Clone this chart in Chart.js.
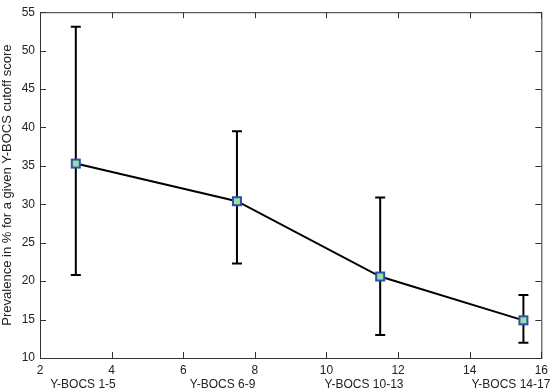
<!DOCTYPE html>
<html>
<head>
<meta charset="utf-8">
<script src="https://cdn.jsdelivr.net/npm/chart.js@4/dist/chart.umd.min.js"></script>
<style>
  html, body { margin: 0; padding: 0; background: #fff; }
  #wrap { width: 553px; height: 392px; position: relative; }
</style>
</head>
<body>
<div id="wrap"><canvas id="chart"></canvas></div>
<script>
"use strict";

// data
const groups = ["Y-BOCS 1-5", "Y-BOCS 6-9", "Y-BOCS 10-13", "Y-BOCS 14-17"];
const groupLabelX = [3.2, 7.1, 11.05, 15.15];
const xPos = [3, 7.5, 11.5, 15.5];
const prevalence = [35.3, 30.4, 20.6, 14.9];
const errLow = [20.8, 22.3, 13.0, 12.0];
const errHigh = [53.1, 39.5, 30.9, 18.2];

const xTicks = [2, 4, 6, 8, 10, 12, 14, 16];
const yTicks = [10, 15, 20, 25, 30, 35, 40, 45, 50, 55];

const FONT = "'Liberation Sans', Arial, Helvetica, sans-serif";

// error bars, then markers again so they sit on top
const errorBars = {
  id: "errorBars",
  afterDatasetsDraw(chart) {
    const { ctx, scales: { x, y } } = chart;
    ctx.save();
    ctx.strokeStyle = "#000";
    ctx.lineWidth = 2;
    xPos.forEach((v, i) => {
      const px = x.getPixelForValue(v);
      const top = y.getPixelForValue(errHigh[i]);
      const bot = y.getPixelForValue(errLow[i]);
      ctx.beginPath();
      ctx.moveTo(px, top); ctx.lineTo(px, bot);
      ctx.moveTo(px - 5, top); ctx.lineTo(px + 5, top);
      ctx.moveTo(px - 5, bot); ctx.lineTo(px + 5, bot);
      ctx.stroke();
    });
    const meta = chart.getDatasetMeta(0);
    meta.data.forEach(pt => {
      ctx.fillStyle = "#93e3a4";
      ctx.strokeStyle = "#2f4fae";
      ctx.lineWidth = 2;
      ctx.fillRect(pt.x - 4, pt.y - 4, 8, 8);
      ctx.strokeRect(pt.x - 4, pt.y - 4, 8, 8);
    });
    ctx.restore();
  }
};

// matlab style box with inward ticks + group labels under the axis
const frame = {
  id: "frame",
  afterDraw(chart) {
    const { ctx, chartArea: a, scales: { x, y } } = chart;
    ctx.save();
    ctx.strokeStyle = "#333";
    ctx.lineWidth = 1;
    ctx.strokeRect(a.left + 0.5, a.top + 0.5, a.right - a.left, a.bottom - a.top);
    ctx.beginPath();
    xTicks.forEach(v => {
      const px = Math.round(x.getPixelForValue(v)) + 0.5;
      ctx.moveTo(px, a.bottom); ctx.lineTo(px, a.bottom - 6);
      ctx.moveTo(px, a.top); ctx.lineTo(px, a.top + 6);
    });
    yTicks.forEach(v => {
      const py = Math.round(y.getPixelForValue(v)) + 0.5;
      ctx.moveTo(a.left, py); ctx.lineTo(a.left + 6, py);
      ctx.moveTo(a.right, py); ctx.lineTo(a.right - 6, py);
    });
    ctx.stroke();

    ctx.fillStyle = "#222";
    ctx.font = "12px " + FONT;
    ctx.textAlign = "center";
    ctx.textBaseline = "middle";
    groups.forEach((g, i) => {
      ctx.fillText(g, x.getPixelForValue(groupLabelX[i]), 385);
    });
    ctx.restore();
  }
};

new Chart(document.getElementById("chart"), {
  type: "line",
  data: {
    datasets: [{
      data: xPos.map((v, i) => ({ x: v, y: prevalence[i] })),
      borderColor: "#000",
      borderWidth: 2,
      pointStyle: "rect",
      pointRadius: 4,
      pointBackgroundColor: "#93e3a4",
      pointBorderColor: "#2f4fae",
      pointBorderWidth: 2,
      tension: 0,
    }],
  },
  options: {
    responsive: true,
    maintainAspectRatio: false,
    animation: false,
    layout: { padding: { top: 5, right: 7, bottom: 0, left: 0 } },
    plugins: { legend: { display: false }, tooltip: { enabled: false } },
    scales: {
      x: {
        type: "linear",
        min: 2, max: 16,
        afterBuildTicks: s => { s.ticks = xTicks.map(v => ({ value: v })); },
        afterFit: s => { s.height = 34; },
        grid: { display: false, drawTicks: false },
        border: { display: false },
        ticks: { color: "#222", font: { family: FONT, size: 12 }, padding: 5, maxRotation: 0 },
      },
      y: {
        min: 10, max: 55,
        afterBuildTicks: s => { s.ticks = yTicks.map(v => ({ value: v })); },
        afterFit: s => { s.width = 40; },
        grid: { display: false, drawTicks: false },
        border: { display: false },
        ticks: { color: "#222", font: { family: FONT, size: 12 }, padding: 5 },
        title: {
          display: true,
          text: "Prevalence in % for a given Y-BOCS cutoff score",
          color: "#222",
          font: { family: FONT, size: 13 },
          padding: 0,
        },
      },
    },
  },
  plugins: [errorBars, frame],
});
</script>
</body>
</html>
